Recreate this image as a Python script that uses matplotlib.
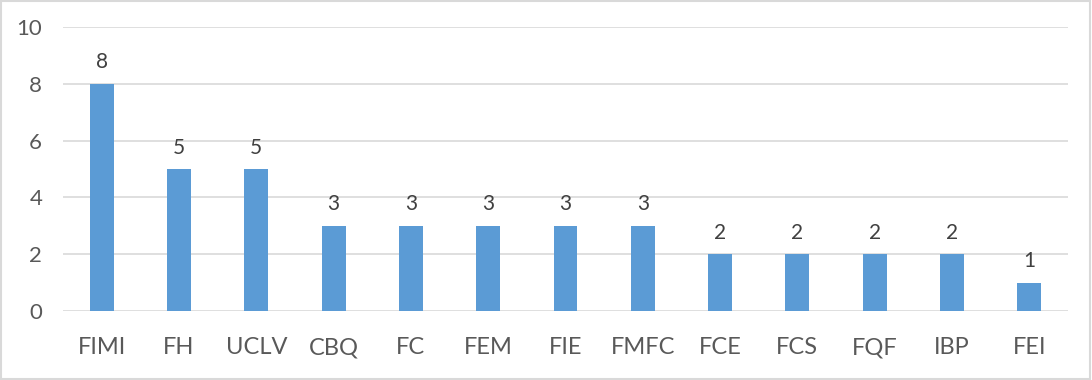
import matplotlib
matplotlib.use("Agg")
import matplotlib.pyplot as plt
from matplotlib.patches import Rectangle

categories = ["FIMI", "FH", "UCLV", "CBQ", "FC", "FEM", "FIE", "FMFC", "FCE", "FCS", "FQF", "IBP", "FEI"]
values = [8, 5, 5, 3, 3, 3, 3, 3, 2, 2, 2, 2, 1]
yticks = [0, 2, 4, 6, 8, 10]

plt.rcParams['font.family'] = ['Lato', 'DejaVu Sans']
txt = '#595959'

fig = plt.figure(figsize=(10.92, 3.8), dpi=100)
ax = fig.add_axes([63/1092, 1-311/380, (1068-63)/1092, (311-27)/380])
x = list(range(len(categories)))
ax.bar(x, values, width=0.31, color='#5B9BD5', zorder=3)
for xi, v in zip(x, values):
    ax.text(xi, v + 0.4, str(v), ha='center', va='bottom', fontsize=15, color='#404040')
ax.set_xlim(-0.5, len(categories) - 0.5)
ax.set_ylim(0, 10)
ax.set_yticks(yticks)
ax.set_yticklabels([str(t) for t in yticks], fontsize=16, color=txt)
ax.set_xticks(x)
ax.set_xticklabels(categories, fontsize=17, color=txt)
ax.tick_params(axis='both', length=0)
ax.tick_params(axis='x', pad=19)
ax.tick_params(axis='y', pad=15)
ax.grid(axis='y', color='#D9D9D9', linewidth=1.2, zorder=0)
for s in ax.spines.values():
    s.set_visible(False)

fig.patches.append(Rectangle((0.001, 0.002), 0.997, 0.995, transform=fig.transFigure,
                             fill=False, edgecolor='#D9D9D9', linewidth=1.5))
fig.savefig('out.png', dpi=100)
